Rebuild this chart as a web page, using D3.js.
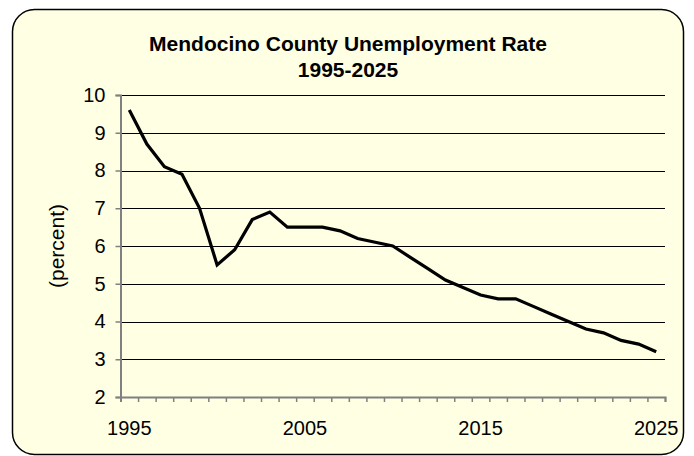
<!DOCTYPE html>
<html>
<head>
<meta charset="utf-8">
<script src="https://cdn.jsdelivr.net/npm/d3@7"></script>
<style>
  body { margin: 0; background: #fff; }
  text { font-family: "Liberation Sans", Arial, sans-serif; }
</style>
</head>
<body>
<svg width="694" height="456"></svg>
<script>
const years = d3.range(1995, 2026);
const rates = [9.6, 8.7, 8.1, 7.9, 7.0, 5.5, 5.9, 6.7, 6.9, 6.5,
               6.5, 6.5, 6.4, 6.2, 6.1, 6.0, 5.7, 5.4, 5.1, 4.9,
               4.7, 4.6, 4.6, 4.4, 4.2, 4.0, 3.8, 3.7, 3.5, 3.4, 3.2];
const yTicks = [2, 3, 4, 5, 6, 7, 8, 9, 10];
const xLabels = [1995, 2005, 2015, 2025];
const titleLines = ['Mendocino County Unemployment Rate', '1995-2025'];

const svg = d3.select('svg');
const width = +svg.attr('width');
const height = +svg.attr('height');

// chart frame
svg.append('rect')
    .attr('x', 12.5).attr('y', 9.5)
    .attr('width', 671).attr('height', 445)
    .attr('rx', 22).attr('ry', 22)
    .attr('fill', '#ffffe3')
    .attr('stroke', '#000')
    .attr('stroke-width', 1.5);

const margin = { top: 95, right: 29, bottom: 59, left: 120.5 };
const innerWidth = width - margin.left - margin.right;
const innerHeight = height - margin.top - margin.bottom;

const data = years.map((y, i) => ({ year: y, rate: rates[i] }));

const xscale = d3.scaleBand().domain(years).range([0, innerWidth]);
const xedges = d3.scaleLinear().domain([0, years.length]).range([0, innerWidth]);
const yscale = d3.scaleLinear().domain([2, 10]).range([innerHeight, 0]);

const g = svg.append('g')
    .attr('transform', `translate(${margin.left},${margin.top})`);

// gridlines
g.append('g').selectAll('line').data(yTicks.slice(1))
    .enter().append('line')
        .attr('x1', 0).attr('x2', innerWidth)
        .attr('y1', d => Math.round(yscale(d)) + 0.5)
        .attr('y2', d => Math.round(yscale(d)) + 0.5)
        .attr('stroke', '#000').attr('stroke-width', 1);

// y axis
const yAxis = g.append('g')
    .call(d3.axisLeft(yscale).tickValues(yTicks).tickSize(5).tickPadding(10));
yAxis.selectAll('text').attr('font-size', 20).attr('fill', '#000');
yAxis.selectAll('line').attr('stroke', '#808080').attr('stroke-width', 1.5);
yAxis.select('.domain').attr('stroke', '#808080').attr('stroke-width', 2);

// x axis: tick marks at category edges
const xTickAxis = g.append('g')
    .attr('transform', `translate(0,${innerHeight})`)
    .call(d3.axisBottom(xedges).tickValues(d3.range(years.length + 1)).tickSize(5));
xTickAxis.selectAll('text').remove();
xTickAxis.selectAll('line').attr('stroke', '#808080').attr('stroke-width', 1.5);
xTickAxis.select('.domain').attr('stroke', '#808080').attr('stroke-width', 2);

// x axis labels at category centres (band axis centres them itself)
const xLabelAxis = g.append('g')
    .attr('transform', `translate(0,${innerHeight})`)
    .call(d3.axisBottom(xscale).tickValues(xLabels).tickSize(0).tickPadding(24));
xLabelAxis.select('.domain').remove();
xLabelAxis.selectAll('text').attr('font-size', 20).attr('fill', '#000');

// data line
const line = d3.line()
    .x(d => xscale(d.year) + xscale.bandwidth() / 2)
    .y(d => yscale(d.rate));

g.append('path').datum(data)
    .attr('d', line)
    .attr('fill', 'none')
    .attr('stroke', '#000')
    .attr('stroke-width', 3.2)
    .attr('stroke-linejoin', 'miter');

// y label
svg.append('text')
    .attr('transform', `translate(64,${margin.top + innerHeight / 2}) rotate(-90)`)
    .attr('text-anchor', 'middle')
    .attr('font-size', 21)
    .text('(percent)');

// title
svg.append('g').selectAll('text').data(titleLines)
    .enter().append('text')
        .attr('x', 348)
        .attr('y', (d, i) => 51 + i * 26)
        .attr('text-anchor', 'middle')
        .attr('font-size', 21)
        .attr('font-weight', 'bold')
        .text(d => d);
</script>
</body>
</html>
